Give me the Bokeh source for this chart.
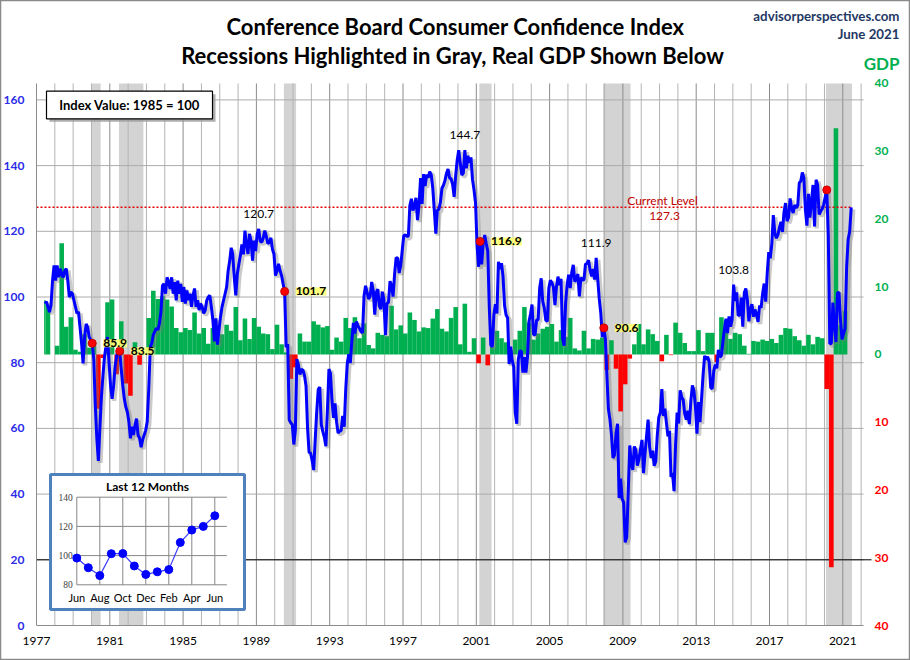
import numpy as np
import pandas as pd
from bokeh.plotting import figure
from bokeh.models import (Range1d, LinearAxis, FixedTicker, Label, LabelSet,
                          ColumnDataSource, BoxAnnotation)
from bokeh.embed import file_html
from bokeh.resources import INLINE
from bokeh.core.properties import value

# ---------------- data ----------------
# Conference Board Consumer Confidence Index, monthly, Jun 1977 - Jun 2021
cci_1977_79 = [98.0, 98.6, 97.0, 95.4, 97.5, 105.0, 109.6,
               105.0, 109.6, 106.0, 108.6, 107.0, 106.0, 108.0, 108.6, 105.0, 100.0, 101.5, 101.0,
               99.0, 97.0, 95.0, 95.5, 90.8, 86.0, 79.8, 87.8, 91.8, 90.8, 87.8, 87.0]
cci_1980s = [85.9, 81.0, 67.0, 57.0, 50.1, 60.0, 69.5, 76.0, 81.7, 85.0, 87.8, 80.0,
             73.0, 69.0, 73.0, 79.0, 82.0, 84.5, 83.5, 78.0, 73.0, 69.0, 66.5, 65.0,
             62.0, 57.0, 60.5, 58.0, 61.0, 63.0, 58.0, 57.0, 54.3, 56.5, 58.0, 59.4,
             62.0, 72.0, 84.7, 86.0, 88.5, 89.5, 90.5, 90.0, 92.0, 95.5, 103.5, 104.0,
             101.0, 106.0, 104.5, 102.5, 106.0, 101.0, 104.5, 99.0, 105.0, 101.0, 104.0, 98.5,
             103.0, 98.0, 102.0, 99.0, 101.0, 97.0, 100.5, 102.6, 97.0, 99.0, 96.0, 98.0,
             97.0, 95.0, 96.0, 99.0, 100.0, 100.5, 97.0, 93.0, 86.5, 93.5, 85.5, 90.0,
             94.0, 97.0, 99.0, 101.0, 103.0, 108.0, 111.0, 115.0, 113.0, 106.0, 100.5, 107.0,
             110.0, 112.6, 116.0, 113.0, 120.2, 116.0, 113.1, 119.2, 117.0, 111.1, 117.2, 114.0,
             119.2, 120.7, 117.0, 116.7, 118.0, 120.2, 118.5, 116.2, 116.7, 118.0, 114.5, 113.1]
cci_1990s = [106.5, 108.0, 110.1, 108.0, 106.5, 104.0, 101.7, 84.7, 85.6, 62.6, 61.7, 61.2,
             55.1, 59.4, 81.1, 79.4, 76.4, 78.0, 77.7, 76.1, 72.9, 60.1, 52.7, 52.5,
             50.2, 47.3, 56.5, 65.1, 71.9, 72.6, 61.2, 59.0, 57.3, 54.6, 65.6, 78.1,
             76.7, 68.5, 63.2, 67.6, 61.9, 58.6, 59.2, 59.3, 63.8, 60.5, 71.9, 79.8,
             82.6, 79.9, 86.7, 92.1, 88.9, 92.5, 91.3, 90.4, 89.5, 89.1, 100.4, 103.4,
             101.4, 99.4, 100.2, 104.6, 102.0, 94.6, 101.4, 102.4, 97.3, 96.3, 101.6, 99.2,
             88.4, 98.0, 98.4, 104.8, 103.5, 100.1, 107.0, 112.0, 111.8, 107.3, 109.5, 114.2,
             118.7, 118.9, 118.5, 118.5, 127.9, 129.9, 126.3, 127.6, 130.2, 123.4, 128.1, 136.2,
             128.3, 137.4, 133.8, 137.2, 136.3, 138.2, 137.2, 133.1, 126.4, 119.3, 126.4, 126.7,
             128.9, 133.1, 134.0, 135.5, 137.7, 139.0, 136.2, 136.0, 134.2, 130.5, 137.0, 141.7]
cci_2000s = [144.7, 140.8, 137.1, 137.7, 144.7, 139.2, 143.0, 140.8, 142.5, 135.8, 132.6, 128.6,
             115.7, 109.2, 116.9, 109.9, 116.1, 118.9, 116.3, 114.0, 97.0, 85.3, 84.9, 94.6,
             97.8, 95.0, 110.7, 108.5, 110.3, 106.3, 97.4, 94.5, 93.7, 79.6, 84.9, 80.7,
             78.8, 64.8, 61.4, 81.0, 83.6, 83.5, 77.0, 81.7, 77.0, 81.7, 92.5, 94.8,
             97.7, 88.5, 88.5, 93.0, 93.1, 102.8, 105.7, 98.7, 96.7, 92.9, 92.6, 102.7,
             105.1, 104.4, 103.0, 97.5, 103.1, 106.2, 103.6, 105.5, 87.5, 85.2, 98.3, 103.8,
             106.8, 102.7, 107.5, 109.8, 104.7, 105.4, 107.0, 100.2, 105.9, 105.1, 105.3, 110.0,
             110.2, 111.2, 108.2, 106.3, 108.5, 105.3, 111.9, 105.6, 99.5, 95.2, 87.8, 90.6,
             87.3, 76.4, 65.9, 62.8, 58.1, 51.0, 51.9, 58.5, 61.4, 38.8, 44.7, 38.6,
             37.4, 25.3, 26.9, 40.8, 54.8, 49.3, 47.4, 54.5, 53.4, 48.7, 50.6, 53.6]
cci_2010s = [56.5, 46.4, 52.3, 57.7, 62.7, 54.3, 51.0, 53.2, 48.6, 49.9, 57.8, 63.4,
             64.8, 72.0, 63.8, 66.0, 61.7, 57.6, 59.2, 45.2, 46.4, 40.9, 55.2, 64.8,
             61.5, 71.6, 69.5, 68.7, 64.4, 62.7, 65.4, 61.3, 68.4, 73.1, 71.5, 66.7,
             58.4, 68.0, 61.9, 69.0, 76.2, 82.1, 81.0, 81.8, 80.2, 72.4, 72.0, 77.5,
             79.4, 78.3, 83.9, 81.7, 82.2, 86.4, 90.3, 93.4, 89.0, 94.1, 91.0, 93.1,
             103.8, 98.8, 101.4, 94.3, 94.6, 99.8, 91.0, 101.3, 102.6, 99.1, 92.6, 96.3,
             97.8, 94.0, 96.2, 94.7, 92.4, 97.4, 96.7, 101.1, 104.1, 98.6, 107.1, 113.7,
             111.8, 116.1, 124.9, 119.4, 117.9, 118.9, 121.1, 122.9, 119.8, 125.9, 128.6, 123.1,
             124.3, 130.0, 127.0, 125.6, 128.0, 127.1, 127.9, 134.7, 135.3, 137.9, 136.4, 126.6,
             121.7, 131.4, 124.2, 129.2, 134.1, 121.5, 135.7, 134.2, 125.1, 126.1, 126.8, 128.2]
cci_2020_21 = [130.4, 132.6, 118.8, 85.7, 85.9, 98.3, 91.7, 86.3, 101.3, 101.4, 92.9, 87.1,
               88.9, 90.4, 109.0, 117.5, 120.0, 127.3]
CCI_FIRST_MONTH = "1977-06"

# Real GDP, quarterly annualized % change, 1977 Q2 - 2021 Q1
gdp_1977_89 = [8.0, 7.3, 0.0,
               1.3, 16.4, 4.1, 5.5, 0.7, 0.4, 3.0, 1.0,
               1.3, -8.0, -0.5, 7.7, 8.1, -2.9, 4.9, -4.3, -6.1, 1.8, -1.5, 0.2,
               5.4, 9.4, 8.2, 8.6, 8.1, 7.1, 3.9, 3.3, 3.9, 3.6, 6.2, 3.1,
               3.9, 1.6, 3.9, 2.2, 3.0, 4.4, 3.5, 7.0, 2.1, 5.3, 2.3, 5.4,
               4.1, 3.1, 3.0, 0.8]
gdp_1990s = [4.4, 1.5, 0.3, -3.6, -1.9, 3.1, 1.9, 1.9, 4.9, 4.4, 4.0, 4.2,
             0.7, 2.5, 1.9, 5.4, 3.9, 5.5, 2.4, 4.6, 1.4, 0.9, 3.2, 2.9,
             2.7, 7.2, 3.7, 4.3, 3.1, 6.2, 5.1, 3.4, 4.0, 3.9, 5.3, 6.7,
             3.8, 3.4, 5.4, 7.0]
gdp_2000s = [1.5, 7.5, 0.4, 2.4, -1.3, 2.5, -1.6, 1.1, 3.5, 2.4, 1.8, 0.6,
             2.2, 3.5, 7.0, 4.7, 2.2, 3.1, 3.8, 4.1, 4.5, 1.9, 3.6, 2.6,
             5.4, 0.9, 0.6, 3.5, 0.9, 2.3, 2.2, 2.5, -2.3, 2.1, -2.1, -8.4,
             -4.4, -0.6, 1.5, 4.5]
gdp_2010s = [1.5, 3.7, 3.0, 2.0, -1.0, 2.9, -0.1, 4.7, 3.2, 1.7, 0.5, 0.5,
             3.6, 0.5, 3.2, 3.2, -1.1, 5.5, 5.0, 2.3, 3.2, 3.0, 1.3, 0.1,
             2.0, 1.9, 2.2, 2.0, 2.3, 1.7, 2.9, 3.9, 3.8, 2.7, 2.1, 1.3,
             2.9, 1.5, 2.6, 2.4]
gdp_2020_21 = [-5.1, -31.4, 33.4, 4.3, 6.4]
GDP_FIRST_QUARTER = "1977Q2"

# Recessions (first and last shaded month)
rec_start = ["1980-01", "1981-07", "1990-07", "2001-03", "2007-12", "2020-02"]
rec_end = ["1980-06", "1982-10", "1991-02", "2001-10", "2009-05", "2021-06"]
rec_labeled = [True, True, True, True, True, False]

# Labeled peaks
peak_months = ["1989-02", "2000-05", "2007-07", "2015-01"]

# Axis ticks
year_ticks = list(range(1977, 2022, 4))
year_minor = list(range(1978, 2023))
left_ticks = [0, 20, 40, 60, 80, 100, 120, 140, 160]
gdp_pos_ticks = [0, 10, 20, 30, 40]
gdp_neg_ticks = [-10, -20, -30, -40]
REF_LINE_LEVEL = 20

inset_months = ["Jun", "Jul", "Aug", "Sep", "Oct", "Nov", "Dec",
                "Jan", "Feb", "Mar", "Apr", "May", "Jun"]
inset_ticks = [80, 100, 120, 140]

# ---------------- derived ----------------
cci = cci_1977_79 + cci_1980s + cci_1990s + cci_2000s + cci_2010s + cci_2020_21
months = pd.period_range(CCI_FIRST_MONTH, periods=len(cci), freq="M")
mx = np.array(months.year + (months.month - 0.5) / 12.0)
data_start = months[0].year + (months[0].month - 1) / 12.0
cci_by_month = dict(zip([str(m) for m in months], cci))
xm_by_month = dict(zip([str(m) for m in months], mx))
current = cci[-1]

gdp = gdp_1977_89 + gdp_1990s + gdp_2000s + gdp_2010s + gdp_2020_21
quarters = pd.period_range(GDP_FIRST_QUARTER, periods=len(gdp), freq="Q")
q_left = np.array(quarters.year + (quarters.quarter - 1) / 4.0)
q_right = q_left + 0.25
q_left = np.maximum(q_left, data_start)
gdp_colors = ["#00B050" if g >= 0 else "#FF0000" for g in gdp]


def month_start(s):
    per = pd.Period(s, freq="M")
    return per.year + (per.month - 1) / 12.0


def month_end(s):
    per = pd.Period(s, freq="M")
    return per.year + per.month / 12.0


# ---------------- layout: chart area in page pixels ----------------
X0, X1 = 1977.0, 2022.13       # chart x extent (years)
Y1 = 165.0                      # chart top (index points)
G0, G1 = -40.0, 40.0            # GDP axis extent
PXY = 18.325                    # px per year
PXV = 3.285                     # px per index point
W, H = 910, 660


def xr(px):
    return 1977.0 + (px - 36.0) / PXY


def yr(py):
    return (625.0 - py) / PXV


def l2g(v):
    return G0 + (G1 - G0) * v / Y1


FONT = "Lato"
BLUE_TXT = "#2B2BE8"
GREEN = "#00B050"
RED = "#FF0000"
DARKRED = "#C00000"
NAVY = "#1F3864"

p = figure(width=W, height=H, output_backend="svg", toolbar_location=None,
           x_range=Range1d(xr(0), xr(W)), y_range=Range1d(yr(H), yr(0)),
           x_axis_type=None, y_axis_type=None, min_border=0)
p.outline_line_color = "#8A8A8A"
p.outline_line_width = 1.5
p.extra_y_ranges = {"gdp": Range1d(l2g(yr(H)), l2g(yr(0)))}


def style_axis(ax, color, standoff, bold):
    ax.major_tick_line_color = None
    ax.minor_tick_line_color = None
    ax.major_tick_out = 0
    ax.minor_tick_out = 0
    ax.major_tick_in = 0
    ax.minor_tick_in = 0
    ax.major_label_standoff = standoff
    ax.major_label_text_font = FONT
    ax.major_label_text_font_size = "12px"
    ax.major_label_text_font_style = "bold" if bold else "normal"
    ax.major_label_text_color = color
    return ax


xax = LinearAxis(ticker=FixedTicker(ticks=year_ticks), fixed_location=0, bounds=(X0, X1))
style_axis(xax, "black", 11, False)
xax.axis_line_color = "#8C8C8C"
p.add_layout(xax, "below")

yax = LinearAxis(ticker=FixedTicker(ticks=left_ticks), fixed_location=X0, bounds=(0, Y1))
style_axis(yax, BLUE_TXT, 12, True)
yax.axis_line_color = "#8C8C8C"
p.add_layout(yax, "left")

for ticks, color in [(gdp_pos_ticks, GREEN), (gdp_neg_ticks, RED)]:
    ax = LinearAxis(y_range_name="gdp", ticker=FixedTicker(ticks=ticks),
                    fixed_location=X1, bounds=(G0, G1))
    ax.major_label_overrides = {t: str(abs(t)) for t in ticks}
    style_axis(ax, color, 11, True)
    ax.axis_line_color = None
    p.add_layout(ax, "right")

# recession bands
for s, e in zip(rec_start, rec_end):
    p.add_layout(BoxAnnotation(left=month_start(s), right=month_end(e), bottom=0, top=Y1,
                               fill_color="#D3D3D3", fill_alpha=1.0,
                               line_color=None, level="image"))

# grid lines (limited to the chart area)
minor_x = [y for y in year_minor if y not in year_ticks]
p.segment(x0=minor_x, x1=minor_x, y0=0, y1=Y1, line_color="#B4B4B4", line_width=1,
          level="underlay")
major_x = [y for y in year_ticks if y != X0]
p.segment(x0=major_x, x1=major_x, y0=0, y1=Y1, line_color="#8C8C8C", line_width=1,
          level="underlay")
hy = [t for t in left_ticks if t != 0]
p.segment(x0=X0, x1=X1, y0=hy, y1=hy, line_color="#ACACAC", line_width=1,
          level="underlay")
# reference line (runs out under the right axis labels)
p.segment(x0=[X0], x1=[xr(871)], y0=[REF_LINE_LEVEL], y1=[REF_LINE_LEVEL],
          line_color="black", line_width=1, level="underlay")

# GDP bars
gsrc = ColumnDataSource(dict(left=q_left, right=q_right, top=gdp, color=gdp_colors))
p.quad(left="left", right="right", bottom=0, top="top", fill_color="color",
       line_color=None, y_range_name="gdp", source=gsrc)

# current level dotted line
p.line([X0, mx[-1]], [current, current], line_color="#E00000", line_width=1.5,
       line_dash="2 2")

# line shadow
dx, dy = 2.0 / PXY, 2.0 / PXV
sh = p.subplot(x_source=Range1d(X0, X1), y_source=Range1d(0, Y1),
               x_target=Range1d(X0 + dx, X1 + dx), y_target=Range1d(-dy, Y1 - dy))
sh.line(mx, cci, line_color="#7A7A7A", line_alpha=0.4, line_width=4.5)

# main line
p.line(mx, cci, line_color="#0000FF", line_width=3)

# recession-start dots
dot_x = [xm_by_month[s] for s in rec_start]
dot_y = [cci_by_month[s] for s in rec_start]
p.scatter(dot_x, dot_y, size=8, fill_color="#FF0000", line_color="#C00000")

lab_src = ColumnDataSource(dict(
    x=[x for x, f in zip(dot_x, rec_labeled) if f],
    y=[y for y, f in zip(dot_y, rec_labeled) if f],
    t=["%.1f" % y for y, f in zip(dot_y, rec_labeled) if f]))
p.add_layout(LabelSet(x="x", y="y", text="t", source=lab_src, x_offset=11,
                      text_align="left", text_baseline="middle", text_color="black",
                      text_font=value(FONT), text_font_size="12px", text_font_style="bold",
                      background_fill_color="#FFFF70", background_fill_alpha=0.9))

peak_src = ColumnDataSource(dict(
    x=[xm_by_month[m] for m in peak_months],
    y=[cci_by_month[m] for m in peak_months],
    t=["%.1f" % cci_by_month[m] for m in peak_months]))
p.add_layout(LabelSet(x="x", y="y", text="t", source=peak_src, y_offset=15,
                      text_align="center", text_baseline="middle", text_color="black",
                      text_font=value(FONT), text_font_size="12px"))

# current level labels
p.add_layout(Label(x=xr(662), y=current, y_offset=7, text="Current Level",
                   text_align="center", text_baseline="middle", text_color=DARKRED,
                   text_font=FONT, text_font_size="12px"))
p.add_layout(Label(x=xr(664), y=current, y_offset=-9, text="%.1f" % current,
                   text_align="center", text_baseline="middle", text_color=DARKRED,
                   text_font=FONT, text_font_size="12px"))

# index value box
p.quad(left=[xr(49)], right=[xr(215)], top=[yr(93.7)], bottom=[yr(121.3)],
       fill_color="#9A9A9A", fill_alpha=0.8, line_color=None)
p.quad(left=[xr(46)], right=[xr(212)], top=[yr(90.7)], bottom=[yr(118.3)],
       fill_color="white", line_color="black", line_width=1.2)
p.add_layout(Label(x=xr(129), y=yr(104.5), text="Index Value: 1985 = 100",
                   text_align="center", text_baseline="middle", text_color="black",
                   text_font=FONT, text_font_size="13px", text_font_style="bold"))

# inset box
p.quad(left=[xr(50)], right=[xr(244)], top=[yr(474)], bottom=[yr(609)],
       fill_color="white", line_color="#4F81BD", line_width=3)
p.add_layout(Label(x=xr(147), y=yr(486), text="Last 12 Months",
                   text_align="center", text_baseline="middle", text_color="black",
                   text_font=FONT, text_font_size="12px", text_font_style="bold"))

ins_vals = cci[-len(inset_months):]
ins_idx = list(range(len(inset_months)))
ins = p.subplot(x_source=Range1d(0, 12), y_source=Range1d(80, 140),
                x_target=Range1d(xr(76.3), xr(214.3)),
                y_target=Range1d(yr(584.3), yr(496.7)))
x_grid_end = 13.05
ins.segment(x0=[0] * len(inset_ticks), x1=[x_grid_end] * len(inset_ticks),
            y0=inset_ticks, y1=inset_ticks, line_color="#868686", line_width=1)
vx = ins_idx[::2]
ins.segment(x0=vx, x1=vx, y0=[80] * len(vx), y1=[140] * len(vx),
            line_color="#868686", line_width=1)
ins.line(ins_idx, ins_vals, line_color="#3B3BFF", line_width=1.2)
ins.scatter(ins_idx, ins_vals, size=8, fill_color="#0000FF", line_color="#0000FF")
ins.text(x=[0] * len(inset_ticks), y=inset_ticks, text=[str(t) for t in inset_ticks],
         x_offset=-4, text_align="right", text_baseline="middle",
         text_font=value("Liberation Serif"), text_font_size="9.5px", text_color="#404040")
ins.text(x=vx, y=[80] * len(vx), text=[inset_months[i] for i in vx], y_offset=13,
         text_align="center", text_baseline="middle", text_font=value(FONT),
         text_font_size="11px", text_color="black")

# header
for txt, py in [("Conference Board Consumer Confidence Index", 26),
                ("Recessions Highlighted  in Gray, Real GDP Shown Below", 55)]:
    p.add_layout(Label(x=xr(455), y=yr(py), text=txt, text_align="center",
                       text_baseline="middle", text_color="black", text_font=FONT,
                       text_font_size="22px", text_font_style="bold"))
p.add_layout(Label(x=xr(899), y=yr(15), text="advisorperspectives.com", text_align="right",
                   text_baseline="middle", text_color=NAVY, text_font=FONT,
                   text_font_size="13.3px", text_font_style="bold"))
p.add_layout(Label(x=xr(899), y=yr(33), text="June 2021", text_align="right",
                   text_baseline="middle", text_color=NAVY, text_font=FONT,
                   text_font_size="13.3px", text_font_style="bold"))
p.add_layout(Label(x=xr(899), y=yr(63), text="GDP", text_align="right",
                   text_baseline="middle", text_color=GREEN, text_font=FONT,
                   text_font_size="17px", text_font_style="bold"))

open("out.html", "w").write(file_html(p, INLINE))
